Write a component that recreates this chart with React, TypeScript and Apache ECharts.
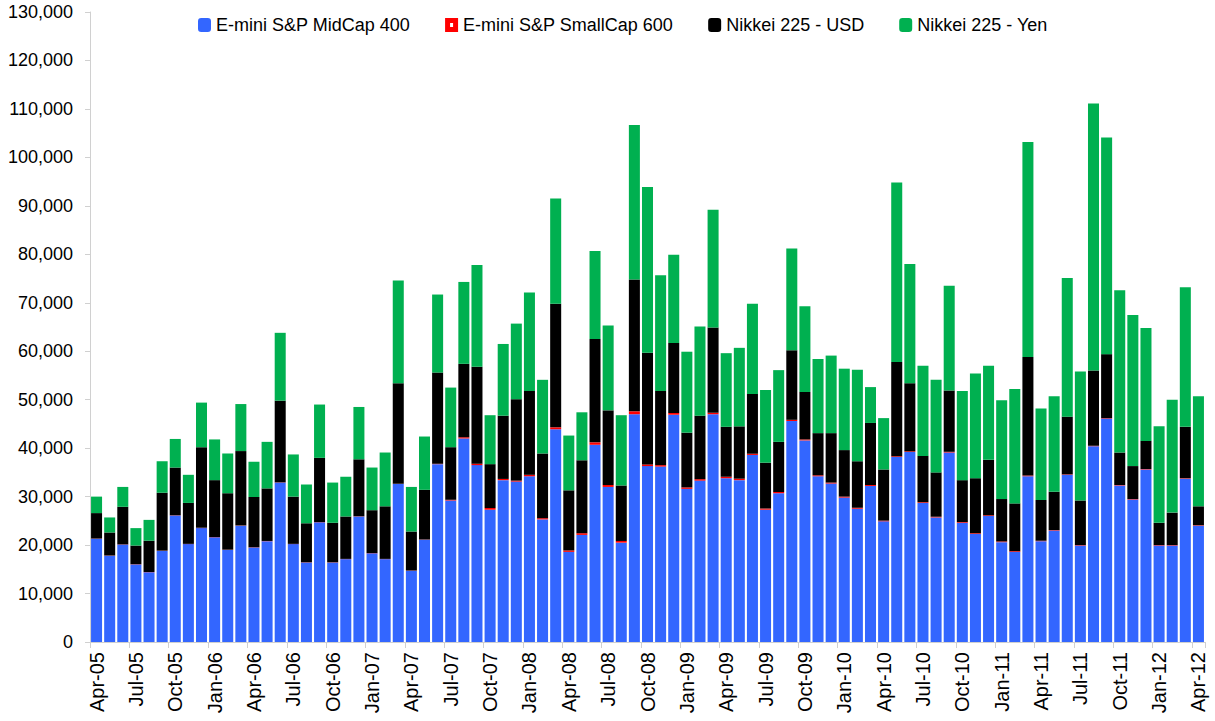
import React, { useEffect, useRef } from "react";
import * as echarts from "echarts";

const months: string[] = [
  "Apr-05","May-05","Jun-05","Jul-05","Aug-05","Sep-05","Oct-05","Nov-05","Dec-05",
  "Jan-06","Feb-06","Mar-06","Apr-06","May-06","Jun-06","Jul-06","Aug-06","Sep-06","Oct-06","Nov-06","Dec-06",
  "Jan-07","Feb-07","Mar-07","Apr-07","May-07","Jun-07","Jul-07","Aug-07","Sep-07","Oct-07","Nov-07","Dec-07",
  "Jan-08","Feb-08","Mar-08","Apr-08","May-08","Jun-08","Jul-08","Aug-08","Sep-08","Oct-08","Nov-08","Dec-08",
  "Jan-09","Feb-09","Mar-09","Apr-09","May-09","Jun-09","Jul-09","Aug-09","Sep-09","Oct-09","Nov-09","Dec-09",
  "Jan-10","Feb-10","Mar-10","Apr-10","May-10","Jun-10","Jul-10","Aug-10","Sep-10","Oct-10","Nov-10","Dec-10",
  "Jan-11","Feb-11","Mar-11","Apr-11","May-11","Jun-11","Jul-11","Aug-11","Sep-11","Oct-11","Nov-11","Dec-11",
  "Jan-12","Feb-12","Mar-12","Apr-12",
];

const midCap400: number[] = [
  21300,17800,20100,16000,14400,18800,26100,20200,23500,
  21600,19000,24000,19500,20800,32900,20200,16400,24700,16400,17100,25900,
  18300,17100,32600,14700,21100,36700,29200,42000,36500,27300,33400,33100,
  34200,25300,43900,18600,22100,40700,32000,20500,47000,36300,36200,46900,
  31600,33300,47000,33800,33400,38600,27300,30700,45600,41600,34200,32700,
  29800,27500,32200,24900,38200,39200,28700,25700,39100,24600,22300,26000,
  20600,18600,34200,20800,23000,34500,19900,40400,46100,32300,29400,35600,
  19900,19900,33700,24000,
];

const smallCap600: number[] = [
  50,50,50,50,50,50,50,50,50,
  50,50,50,50,50,50,50,50,50,50,50,50,
  50,50,50,50,50,100,150,250,300,350,250,200,
  300,250,400,300,350,500,400,350,600,350,300,350,
  300,300,300,300,300,250,250,250,250,200,200,200,
  200,200,200,150,150,150,150,150,150,150,150,150,
  150,150,150,100,100,100,100,100,100,100,100,100,
  100,100,100,100,
];

const nikkeiUsd: number[] = [
  5250,4750,7750,3850,6450,11950,9850,8450,16650,
  11750,11650,15350,10350,10850,16850,9750,8050,13250,8150,8750,11750,
  8850,10850,20750,8050,10250,18800,10850,15150,20000,9050,13050,16800,
  17300,13350,25500,12400,15050,21300,15400,11450,27200,23050,15300,14450,
  11300,13100,17600,10300,10800,12350,9450,10350,14350,9800,8700,10200,
  9600,9600,12800,10550,19450,14050,9550,9150,12650,8650,11350,11450,
  8750,9850,24450,8400,7900,11900,9200,15500,13200,6700,6800,5800,
  4600,6700,10600,3900,
];

const nikkeiYen: number[] = [
  3400,3100,4100,3600,4300,6500,5900,5800,9200,
  8400,8200,9700,7300,9600,14000,8700,8000,11000,8300,8200,10800,
  8800,11100,21200,9200,11000,16100,12300,16900,21000,10100,14800,15600,
  20300,15200,21700,11300,9900,18200,17500,14500,31900,34200,23900,18200,
  16700,18400,24300,15200,16200,18600,15000,14800,21000,17700,15300,16000,
  16800,18900,7400,10600,37000,24600,18600,19100,21600,18400,21600,19400,
  20400,23600,44400,18900,19700,28600,26600,55100,44700,33500,31200,23300,
  19900,23300,28800,22700,
];

const yTicks: number[] = [0, 130000, 10000];

const FONT = "'Liberation Sans', Arial, sans-serif";

const NAMES = ["E-mini S&P MidCap 400", "E-mini S&P SmallCap 600", "Nikkei 225 - USD", "Nikkei 225 - Yen"];
const COLORS = ["#3366ff", "#ff0000", "#000000", "#00b050"];

export default function App() {
  const ref = useRef<HTMLDivElement>(null);
  useEffect(() => {
    if (!ref.current) return;
    const chart = echarts.init(ref.current, undefined, { renderer: "svg" });
    const mk = (i: number, data: number[]) => ({
      name: NAMES[i],
      type: "bar",
      stack: "total",
      data,
      barCategoryGap: "16%",
      itemStyle: { color: COLORS[i] },
      emphasis: { disabled: true },
    });
    chart.setOption({
      animation: false,
      backgroundColor: "#ffffff",
      textStyle: { fontFamily: FONT },
      legend: {
        top: 11,
        left: 193,
        itemWidth: 13,
        itemHeight: 14,
        itemGap: 35,
        icon: "roundRect",
        textStyle: { fontFamily: FONT, fontSize: 18, color: "#000" },
        data: [
          NAMES[0],
          {
            name: NAMES[1],
            icon: "path://M0,0 L13,0 L13,14 L0,14 Z M5,5 L5,9 L8,9 L8,5 Z",
          },
          NAMES[2],
          NAMES[3],
        ],
      },
      grid: { left: 90, right: 10, top: 12, bottom: 79, containLabel: false },
      xAxis: {
        type: "category",
        data: months,
        boundaryGap: true,
        axisLine: { lineStyle: { color: "#d0d0d0", width: 1 } },
        axisTick: { show: true, interval: 2, length: 6, lineStyle: { color: "#d0d0d0" } },
        axisLabel: {
          interval: 2,
          rotate: 90,
          margin: 10,
          fontSize: 20,
          fontFamily: FONT,
          color: "#000",
        },
        splitLine: { show: false },
      },
      yAxis: {
        type: "value",
        min: yTicks[0],
        max: yTicks[1],
        interval: yTicks[2],
        axisLine: { show: true, lineStyle: { color: "#d0d0d0" } },
        axisTick: { show: true, length: 5, lineStyle: { color: "#d0d0d0" } },
        splitLine: { show: false },
        axisLabel: {
          fontSize: 18,
          fontFamily: FONT,
          color: "#000",
          margin: 17,
          formatter: (v: number) => v.toLocaleString("en-US"),
        },
      },
      series: [
        mk(0, midCap400),
        mk(1, smallCap600),
        mk(2, nikkeiUsd),
        mk(3, nikkeiYen),
      ],
    });
    return () => chart.dispose();
  }, []);
  return (
    <div
      ref={ref}
      style={{ position: "fixed", left: 0, top: 0, width: 1215, height: 721, background: "#fff" }}
    />
  );
}
